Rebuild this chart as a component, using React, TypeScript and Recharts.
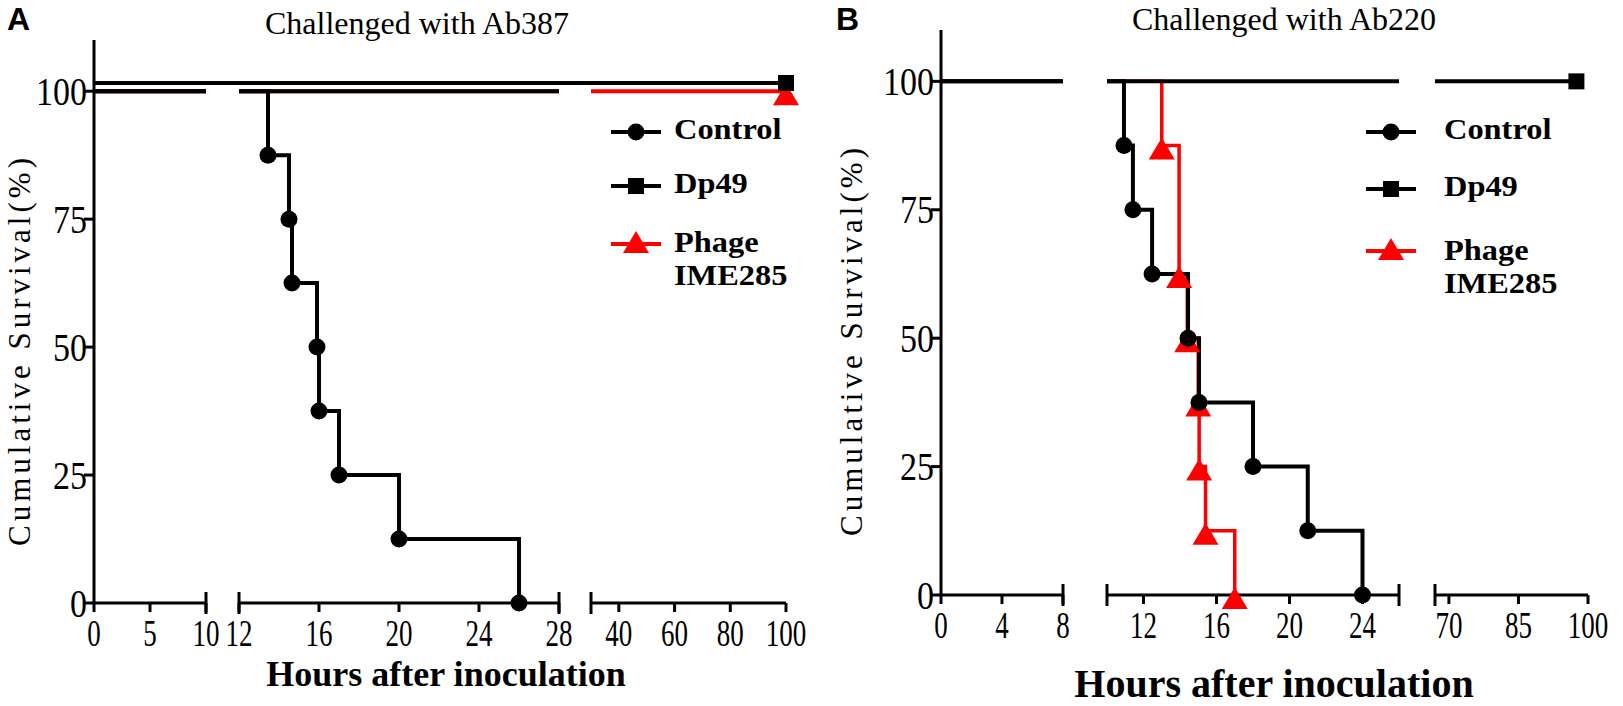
import React from "react";
import { ComposedChart, Line, XAxis, YAxis, ReferenceLine } from "recharts";

const SERIF = '"Liberation Serif", "Times New Roman", serif';
const SANS = '"Liberation Sans", Arial, sans-serif';
const RED = "#ff0000";
const BLACK = "#000000";

// broken x axis: each piece maps an hour range onto a px range of the plot
type Piece = { from: number; to: number; start: number; end: number; ticks: number[] };

const piecesA: Piece[] = [
  { from: 0, to: 10, start: 0, end: 112, ticks: [0, 5, 10] },
  { from: 12, to: 28, start: 145, end: 465, ticks: [12, 16, 20, 24, 28] },
  { from: 30, to: 100, start: 497, end: 692, ticks: [40, 60, 80, 100] },
];
const piecesB: Piece[] = [
  { from: 0, to: 8, start: 0, end: 122, ticks: [0, 4, 8] },
  { from: 10, to: 26, start: 166, end: 458, ticks: [12, 16, 20, 24] },
  { from: 67, to: 100, start: 494, end: 647, ticks: [70, 85, 100] },
];

const yTicks = [0, 25, 50, 75, 100];

// Panel A - challenged with Ab387
const controlAHours = [0, 13.45, 14.5, 14.65, 15.9, 16.0, 17, 20, 26];
const controlASurv = [100, 87.5, 75, 62.5, 50, 37.5, 25, 12.5, 0];
const dp49AHours = [0, 100];
const dp49ASurv = [101.6, 101.6];
const dp49ALevelHours = [0, 28];
const dp49ALevelSurv = [100, 100];
const phageAHours = [0, 100];
const phageASurv = [100, 100];

// Panel B - challenged with Ab220
const controlBHours = [0, 10.93, 11.42, 12.47, 14.44, 15.04, 18, 21, 24];
const controlBSurv = [100, 87.5, 75, 62.5, 50, 37.5, 25, 12.5, 0];
const dp49BHours = [0, 97.5];
const dp49BSurv = [100, 100];
const phageBHours = [0, 13.0, 13.95, 14.4, 15.0, 15.05, 15.4, 17.0];
const phageBSurv = [100, 87.5, 62.5, 50, 37.5, 25, 12.5, 0];

function pos(h: number, pieces: Piece[]) {
  let p = pieces[pieces.length - 1];
  for (const q of pieces) {
    if (h <= q.to + 1e-9) {
      p = q;
      break;
    }
  }
  const t = Math.max(p.from, Math.min(p.to, h));
  return p.start + ((t - p.from) / (p.to - p.from)) * (p.end - p.start);
}

type Row = { x: number; y: number | null; ev: boolean };

// step curve rows, cut at every axis break the curve runs across
function stepRows(hours: number[], surv: number[], pieces: Piece[], marks: "events" | "end" | "none", continuous = false) {
  const rows: Row[] = [];
  hours.forEach((h, i) => {
    if (i > 0 && !continuous) {
      for (let k = 0; k < pieces.length - 1; k++) {
        const g0 = pieces[k].to;
        const g1 = pieces[k + 1].from;
        if (hours[i - 1] < g1 && h > g0) {
          rows.push({ x: pos(g0, pieces), y: surv[i - 1], ev: false });
          rows.push({ x: pos(g0, pieces), y: null, ev: false });
          rows.push({ x: pos(g1, pieces), y: surv[i - 1], ev: false });
        }
      }
    }
    const ev = marks === "events" ? i > 0 : marks === "end" ? i === hours.length - 1 : false;
    rows.push({ x: pos(h, pieces), y: surv[i], ev });
  });
  return rows;
}

function Marker(props: any) {
  const { cx, cy, payload, kind, color } = props;
  if (cx == null || cy == null || !payload || !payload.ev) return <g key={props.key} />;
  if (kind === "circle") return <circle key={props.key} cx={cx} cy={cy} r={8.5} fill={color} />;
  if (kind === "square") return <rect key={props.key} x={cx - 8} y={cy - 8} width={16} height={16} fill={color} />;
  return <path key={props.key} d={`M${cx},${cy - 8} L${cx + 13},${cy + 14} L${cx - 13},${cy + 14} Z`} fill={color} />;
}

type Series = { rows: Row[]; color: string; kind: string; width: number };

function Panel({ pieces, series, width, height, margin, plotW }: { pieces: Piece[]; series: Series[]; width: number; height: number; margin: any; plotW: number }) {
  const plotH = height - margin.top - margin.bottom - 40;
  const cap = (11 * 110) / plotH;
  const ticks: number[] = [];
  const labels = new Map<number, string>();
  pieces.forEach((p) =>
    p.ticks.forEach((t) => {
      const x = pos(t, pieces);
      ticks.push(x);
      labels.set(Math.round(x * 10), String(t));
    })
  );
  const caps: number[] = [];
  pieces.forEach((p, i) => {
    if (p.start > 0) caps.push(p.start);
    if (i < pieces.length - 1) caps.push(p.end);
  });
  return (
    <ComposedChart width={width} height={height} margin={margin}>
      <XAxis
        dataKey="x"
        type="number"
        domain={[0, plotW]}
        ticks={ticks}
        interval={0}
        axisLine={false}
        tickLine={{ stroke: BLACK, strokeWidth: 3 }}
        tickSize={9}
        height={40}
        tick={(p: any) => (
          <g key={p.index} transform={`translate(${p.x},${p.y + 4}) scale(1,1.42)`}>
            <text x={0} y={0} dy="0.72em" textAnchor="middle" fontFamily={SERIF} fontSize={27} fill={BLACK}>
              {labels.get(Math.round(p.payload.value * 10))}
            </text>
          </g>
        )}
      />
      <YAxis
        type="number"
        domain={[0, 110]}
        ticks={yTicks}
        interval={0}
        width={60}
        axisLine={{ stroke: BLACK, strokeWidth: 3 }}
        tickLine={{ stroke: BLACK, strokeWidth: 3 }}
        tickSize={10}
        tick={(p: any) => (
          <g key={p.index} transform={`translate(${p.x + 5},${p.y}) scale(1,1.15)`}>
            <text x={0} y={0} dy="0.35em" textAnchor="end" fontFamily={SERIF} fontSize={34} fill={BLACK}>
              {p.payload.value}
            </text>
          </g>
        )}
      />
      {pieces.map((p, i) => (
        <ReferenceLine key={"ax" + i} segment={[{ x: p.start, y: 0 }, { x: p.end, y: 0 }]} stroke={BLACK} strokeWidth={3} ifOverflow="visible" />
      ))}
      {caps.map((x, i) => (
        <ReferenceLine key={"cap" + i} segment={[{ x, y: -cap }, { x, y: cap }]} stroke={BLACK} strokeWidth={3} ifOverflow="visible" />
      ))}
      {series.map((s, i) => (
        <Line
          key={"s" + i}
          data={s.rows}
          dataKey="y"
          type="stepAfter"
          stroke={s.color}
          strokeWidth={s.width}
          connectNulls={false}
          activeDot={false}
          isAnimationActive={false}
          dot={(p: any) => <Marker {...p} kind={s.kind} color={s.color} />}
        />
      ))}
    </ComposedChart>
  );
}

function LegendRow({ left, y, kind, color, lines, textLeft, textTop }: { left: number; y: number; kind: string; color: string; lines: string[]; textLeft: number; textTop: number }) {
  return (
    <>
      <svg style={{ position: "absolute", left, top: y - 16, overflow: "visible" }} width={50} height={32}>
        <line x1={0} y1={16} x2={50} y2={16} stroke={color} strokeWidth={4} />
        {kind === "circle" && <circle cx={25} cy={16} r={8.5} fill={color} />}
        {kind === "square" && <rect x={17} y={8} width={16} height={16} fill={color} />}
        {kind === "triangle" && <path d="M25,3 L38,25 L12,25 Z" fill={color} />}
      </svg>
      <div
        style={{
          position: "absolute",
          left: textLeft,
          top: textTop,
          fontFamily: SERIF,
          fontWeight: "bold",
          fontSize: 30,
          lineHeight: "33px",
          color: BLACK,
          whiteSpace: "nowrap",
          transform: "scaleX(1.08)",
          transformOrigin: "left top",
        }}
      >
        {lines.map((l) => (
          <div key={l}>{l}</div>
        ))}
      </div>
    </>
  );
}

const textBase: React.CSSProperties = { position: "absolute", whiteSpace: "nowrap", color: BLACK, lineHeight: 1 };

export default function App() {
  const seriesA: Series[] = [
    { rows: stepRows(phageAHours, phageASurv, piecesA, "end"), color: RED, kind: "triangle", width: 4 },
    { rows: stepRows(controlAHours, controlASurv, piecesA, "events"), color: BLACK, kind: "circle", width: 4 },
    { rows: stepRows(dp49ALevelHours, dp49ALevelSurv, piecesA, "none"), color: BLACK, kind: "square", width: 4 },
    { rows: stepRows(dp49AHours, dp49ASurv, piecesA, "end", true), color: BLACK, kind: "square", width: 4 },
  ];
  const seriesB: Series[] = [
    { rows: stepRows(phageBHours, phageBSurv, piecesB, "events"), color: RED, kind: "triangle", width: 3.5 },
    { rows: stepRows(controlBHours, controlBSurv, piecesB, "events"), color: BLACK, kind: "circle", width: 4 },
    { rows: stepRows(dp49BHours, dp49BSurv, piecesB, "end"), color: BLACK, kind: "square", width: 4 },
  ];
  return (
    <div style={{ position: "absolute", left: 0, top: 0, width: 1623, height: 706, background: "#fff", overflow: "hidden" }}>
      <div style={{ position: "absolute", left: 0, top: 0 }}>
        <Panel pieces={piecesA} series={seriesA} width={810} height={706} margin={{ top: 40, right: 24, bottom: 63, left: 34 }} plotW={692} />
      </div>
      <div style={{ position: "absolute", left: 820, top: 0 }}>
        <Panel pieces={piecesB} series={seriesB} width={803} height={706} margin={{ top: 30, right: 35, bottom: 71, left: 61 }} plotW={647} />
      </div>

      <div style={{ ...textBase, left: 7, top: 3, fontFamily: SANS, fontWeight: "bold", fontSize: 32 }}>A</div>
      <div style={{ ...textBase, left: 836, top: 3, fontFamily: SANS, fontWeight: "bold", fontSize: 32 }}>B</div>

      <div style={{ ...textBase, left: 417, top: 7, transform: "translateX(-50%)", fontFamily: SERIF, fontSize: 32 }}>Challenged with Ab387</div>
      <div style={{ ...textBase, left: 1284, top: 3, transform: "translateX(-50%)", fontFamily: SERIF, fontSize: 32 }}>Challenged with Ab220</div>

      <div style={{ ...textBase, left: 19, top: 350, transform: "translate(-50%,-50%) rotate(-90deg)", fontFamily: SERIF, fontSize: 31, letterSpacing: 4 }}>
        Cumulative Survival(%)
      </div>
      <div style={{ ...textBase, left: 851, top: 340, transform: "translate(-50%,-50%) rotate(-90deg)", fontFamily: SERIF, fontSize: 31, letterSpacing: 4 }}>
        Cumulative Survival(%)
      </div>

      <div style={{ ...textBase, left: 446, top: 656, transform: "translateX(-50%)", fontFamily: SERIF, fontWeight: "bold", fontSize: 36 }}>
        Hours after inoculation
      </div>
      <div style={{ ...textBase, left: 1274, top: 664, transform: "translateX(-50%)", fontFamily: SERIF, fontWeight: "bold", fontSize: 40 }}>
        Hours after inoculation
      </div>

      <LegendRow left={611} y={132} kind="circle" color={BLACK} lines={["Control"]} textLeft={674} textTop={112} />
      <LegendRow left={611} y={186} kind="square" color={BLACK} lines={["Dp49"]} textLeft={674} textTop={166} />
      <LegendRow left={611} y={244} kind="triangle" color={RED} lines={["Phage", "IME285"]} textLeft={674} textTop={225} />

      <LegendRow left={1366} y={132} kind="circle" color={BLACK} lines={["Control"]} textLeft={1444} textTop={112} />
      <LegendRow left={1366} y={189} kind="square" color={BLACK} lines={["Dp49"]} textLeft={1444} textTop={169} />
      <LegendRow left={1366} y={251} kind="triangle" color={RED} lines={["Phage", "IME285"]} textLeft={1444} textTop={233} />
    </div>
  );
}
